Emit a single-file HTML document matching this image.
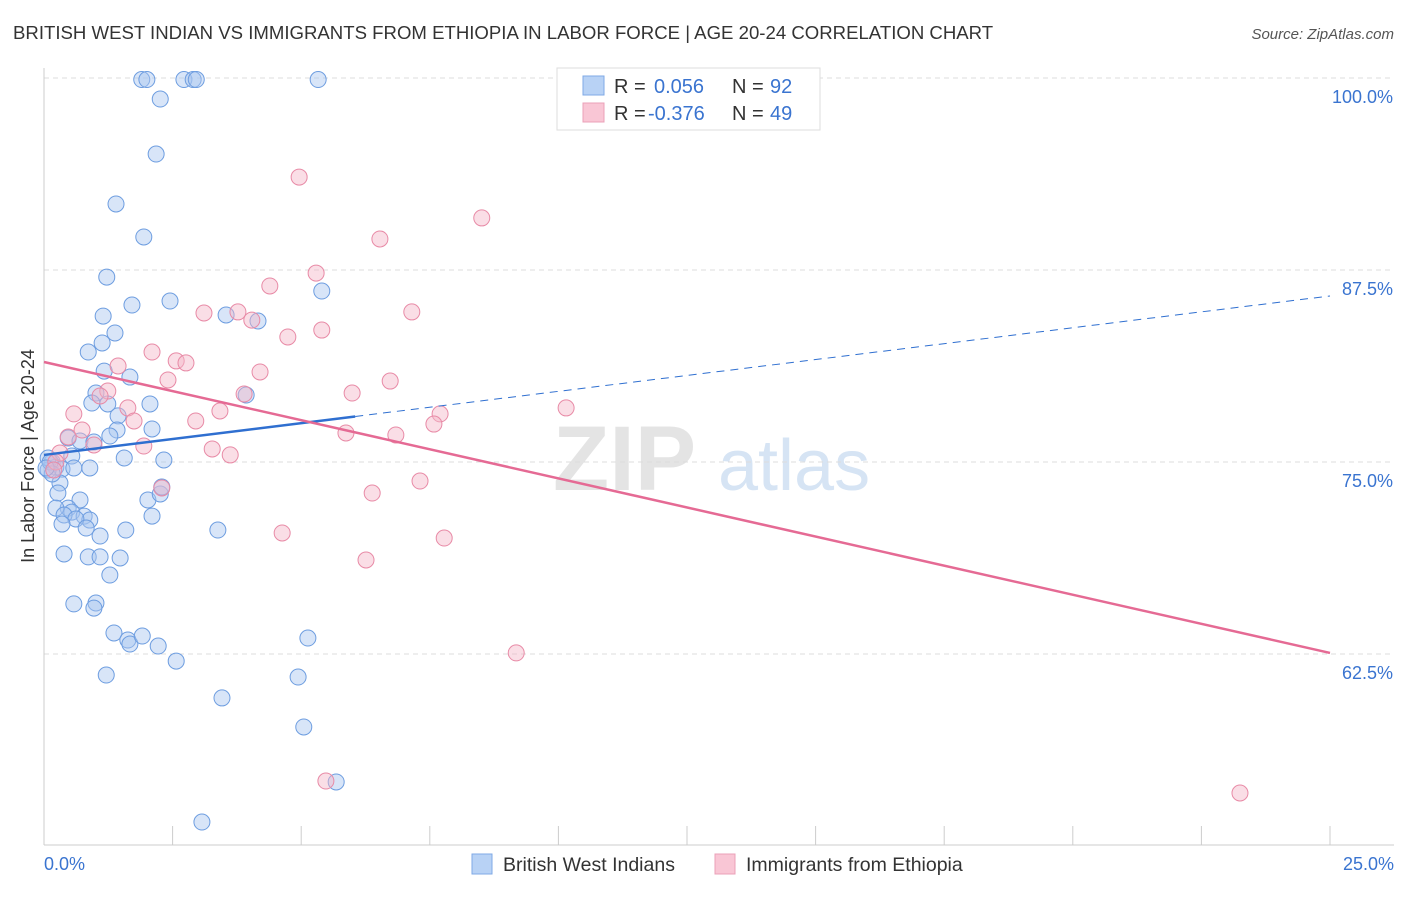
<!DOCTYPE html>
<html><head><meta charset="utf-8"><style>
body{margin:0;background:#fff;font-family:"Liberation Sans",sans-serif}
svg text{font-family:"Liberation Sans",sans-serif}
</style></head><body>
<svg id="chart" width="1406" height="892" xmlns="http://www.w3.org/2000/svg">
<text x="13" y="39" font-size="18.6" fill="#333">BRITISH WEST INDIAN VS IMMIGRANTS FROM ETHIOPIA IN LABOR FORCE | AGE 20-24 CORRELATION CHART</text>
<text x="1394" y="39" font-size="15" fill="#555" text-anchor="end" font-style="italic">Source: ZipAtlas.com</text>
<g>
<text x="553" y="490" font-size="92" fill="#e4e4e4" font-family="Liberation Serif" font-weight="bold">ZIP</text>
<text x="718" y="490" font-size="72" fill="#d6e4f4">atlas</text>
</g>
<g id="grid"></g>
<g id="axes"></g>
<g id="pts"></g>
<g id="trends"></g>
<text transform="translate(34,456) rotate(-90)" font-size="18" fill="#333" text-anchor="middle">In Labor Force | Age 20-24</text>
<g>
<rect x="557" y="68" width="263" height="62" fill="#fff" stroke="#ddd"/>
<rect x="583" y="76" width="21" height="19" fill="#b8d2f5" stroke="#7fa9e6"/>
<rect x="583" y="103" width="21" height="19" fill="#f9c6d5" stroke="#eba0b8"/>
<text x="614" y="93" font-size="20" fill="#333">R = </text><text x="654" y="93" font-size="20" fill="#3a74d0">0.056</text>
<text x="732" y="93" font-size="20" fill="#333">N = </text><text x="770" y="93" font-size="20" fill="#3a74d0">92</text>
<text x="614" y="120" font-size="20" fill="#333">R = </text><text x="648" y="120" font-size="20" fill="#3a74d0">-0.376</text>
<text x="732" y="120" font-size="20" fill="#333">N = </text><text x="770" y="120" font-size="20" fill="#3a74d0">49</text>
</g>
<g>
<rect x="472" y="854" width="20" height="20" fill="#b8d2f5" stroke="#7fa9e6"/>
<text x="503" y="871" font-size="19.5" fill="#333">British West Indians</text>
<rect x="715" y="854" width="20" height="20" fill="#f9c6d5" stroke="#eba0b8"/>
<text x="746" y="871" font-size="19.5" fill="#333">Immigrants from Ethiopia</text>
</g>
</svg>
<script>
const yTicks=[100,87.5,75,62.5];
const yTickLabels=["100.0%","87.5%","75.0%","62.5%"];
const xTickLabels=["0.0%","25.0%"];
const blueX=[1.9,2.0,2.72,2.9,2.96,5.33,2.26,2.18,1.4,1.94,1.22,5.4,1.71,2.45,1.15,3.54,4.16,1.38,0.86,1.13,1.17,1.67,1.01,0.93,1.24,2.06,1.44,1.42,2.1,0.47,0.7,0.97,1.28,3.93,1.56,2.33,0.54,0.16,0.23,0.35,0.58,0.89,0.08,0.31,0.27,0.7,0.47,0.54,0.23,0.39,0.78,0.89,0.62,0.35,0.82,1.09,1.59,3.38,2.02,2.1,2.26,2.29,0.39,0.86,1.09,1.48,1.28,0.58,1.01,0.97,1.36,1.63,1.67,1.91,2.22,2.57,1.21,4.94,5.13,3.46,5.05,5.68,3.07,0.08,0.12,0.16,0.04];
const blueY=[99.9,99.9,99.9,99.9,99.9,99.9,98.63,95.05,91.8,89.65,87.04,86.13,85.22,85.48,84.5,84.57,84.18,83.4,82.16,82.75,80.92,80.53,79.49,78.84,78.78,78.78,78.0,77.08,77.15,76.56,76.37,76.3,76.69,79.36,75.26,75.13,75.39,75.0,74.67,74.54,74.61,74.61,74.48,73.63,72.98,72.53,72.0,71.74,72.0,71.55,71.48,71.22,71.29,70.96,70.7,70.18,70.57,70.57,72.53,71.48,72.92,73.37,69.01,68.82,68.82,68.75,67.64,65.76,65.82,65.49,63.87,63.41,63.15,63.67,63.02,62.04,61.13,61.0,63.54,59.64,57.75,54.17,51.56,75.26,75.0,74.22,74.61];
const pinkX=[4.96,8.51,6.53,5.29,4.39,7.15,3.11,3.77,4.04,5.4,4.74,2.1,2.57,2.76,1.44,4.2,2.41,6.73,5.99,1.24,3.89,1.09,0.58,1.63,10.15,3.42,7.7,7.58,2.95,1.75,0.74,0.47,5.87,6.84,0.97,1.94,3.27,3.62,0.31,0.23,0.19,2.29,6.38,7.31,4.63,7.78,6.26,9.18,5.48,23.25];
const pinkY=[93.55,90.89,89.52,87.3,86.46,84.77,84.7,84.77,84.24,83.59,83.14,82.16,81.58,81.45,81.25,80.86,80.34,80.27,79.49,79.62,79.43,79.3,78.13,78.52,78.52,78.32,78.13,77.47,77.67,77.67,77.08,76.63,76.89,76.76,76.11,76.04,75.85,75.46,75.59,75.0,74.48,73.31,72.98,73.76,70.38,70.05,68.62,62.57,54.23,53.45];
const blueTrend=[75.46,85.81], blueSolidEnd=6.05;
const pinkTrend=[81.51,62.57];
const NS="http://www.w3.org/2000/svg";
const xs=v=>44+v*51.44, ys=v=>78+(100-v)*15.36;
function mk(tag,attrs,parent){const e=document.createElementNS(NS,tag);for(const k in attrs)e.setAttribute(k,attrs[k]);parent.appendChild(e);return e;}
const grid=document.getElementById('grid'),axes=document.getElementById('axes');
yTicks.forEach((t,i)=>{
  const l=mk('line',{x1:44,x2:1394,y1:ys(t),y2:ys(t),stroke:'#ddd','stroke-dasharray':'5,4'},grid);
  
  
  const tx=mk('text',{x:1393,y:ys(t)+25,'font-size':18,fill:'#3a74d0','text-anchor':'end'},axes);
  tx.textContent=yTickLabels[i];
  
  
});
mk('line',{x1:44,x2:44,y1:68,y2:845,stroke:'#ccc'},axes);
mk('line',{x1:44,x2:1394,y1:845,y2:845,stroke:'#ccc'},axes);
for(let i=0;i<=10;i++){const x=xs(i*2.5);const t=mk('line',{x1:x,x2:x,y1:826,y2:845,stroke:'#ccc'},axes);
  
  }
[[0,'start',44],[25,'end',1394]].forEach((a,i)=>{const t=mk('text',{x:a[2],y:870,'font-size':18,fill:'#3a74d0','text-anchor':a[1]},axes);t.textContent=xTickLabels[i];
  
  });
const pts=document.getElementById('pts');
function dots(X,Y,fill,stroke,name){X.forEach((x,i)=>{const c=mk('circle',{cx:xs(x),cy:ys(Y[i]),r:8,fill:fill,'fill-opacity':0.45,stroke:stroke,'stroke-width':1},pts);
  
  });}
dots(blueX,blueY,'#a9c6ef','#6d9de0','bwi-point');
dots(pinkX,pinkY,'#f5b5c8','#e88aa6','ethiopia-point');
const tr=document.getElementById('trends');
const bAt=x=>blueTrend[0]+(blueTrend[1]-blueTrend[0])*x/25;
let l1=mk('line',{x1:xs(0),y1:ys(bAt(0)),x2:xs(blueSolidEnd),y2:ys(bAt(blueSolidEnd)),stroke:'#2f6fd0','stroke-width':2.5},tr);


let l2=mk('line',{x1:xs(blueSolidEnd),y1:ys(bAt(blueSolidEnd)),x2:xs(25),y2:ys(bAt(25)),stroke:'#2f6fd0','stroke-width':1,'stroke-dasharray':'8,6'},tr);


let l3=mk('line',{x1:xs(0),y1:ys(pinkTrend[0]),x2:xs(25),y2:ys(pinkTrend[1]),stroke:'#e56a94','stroke-width':2.5},tr);


</script>
</body></html>
